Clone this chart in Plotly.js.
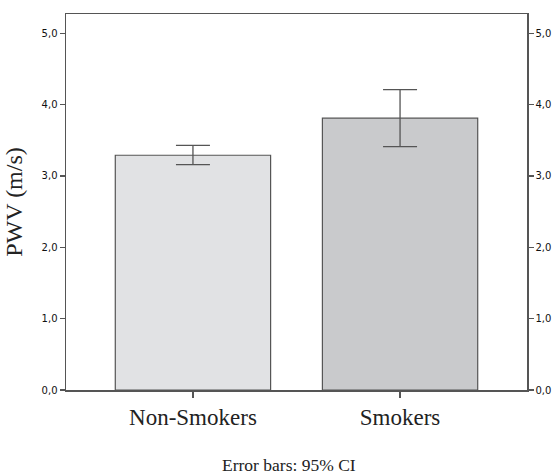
<!DOCTYPE html>
<html>
<head>
<meta charset="utf-8">
<script src="https://cdn.plot.ly/plotly-3.0.1.min.js"></script>
<style>html,body{margin:0;padding:0;background:#fff;}#chart{width:557px;height:476px;}</style>
</head>
<body>
<div id="chart"></div>
<script>
const categories = ["Non-Smokers", "Smokers"];
const meanPWV = [3.29, 3.81];
const ciUpper = [0.14, 0.40];
const ciLower = [0.13, 0.40];
const barColors = ["#e1e2e4", "#c9cacc"];
const yTickVals = [0, 1, 2, 3, 4, 5];
const yTickText = ["0,0", "1,0", "2,0", "3,0", "4,0", "5,0"];

const axisColor = "#555555";
const tickFont = {family: "DejaVu Sans", size: 10, color: "#111"};

const traces = [
  {
    type: "bar",
    x: categories,
    y: meanPWV,
    width: 0.75,
    marker: {color: barColors, line: {color: axisColor, width: 1.2}},
    error_y: {type: "data", symmetric: false, array: ciUpper, arrayminus: ciLower,
              color: axisColor, thickness: 1.3, width: 17},
    hoverinfo: "skip",
    showlegend: false
  },
  {
    type: "scatter",
    mode: "markers",
    x: categories,
    y: meanPWV,
    yaxis: "y2",
    marker: {opacity: 0},
    hoverinfo: "skip",
    showlegend: false
  }
];

const layout = {
  width: 557,
  height: 476,
  margin: {l: 66, r: 30, t: 14, b: 86},
  paper_bgcolor: "#ffffff",
  plot_bgcolor: "#ffffff",
  showlegend: false,
  xaxis: {
    type: "category",
    range: [-0.613, 1.613],
    showline: true, linecolor: axisColor, linewidth: 1.5, mirror: true,
    ticks: "outside", ticklen: 6, tickcolor: axisColor, tickwidth: 1.3,
    showgrid: false, zeroline: false,
    tickfont: {family: "Liberation Serif", size: 23, color: "#222"}
  },
  yaxis: {
    range: [0, 5.27],
    tickvals: yTickVals, ticktext: yTickText,
    showline: true, linecolor: axisColor, linewidth: 1.5,
    ticks: "outside", ticklen: 5, tickcolor: axisColor, tickwidth: 1.3,
    showgrid: false, zeroline: false,
    tickfont: tickFont,
    title: {text: "PWV (m/s)", font: {family: "Liberation Serif", size: 24, color: "#222"}, standoff: 12}
  },
  yaxis2: {
    range: [0, 5.27],
    overlaying: "y", side: "right", matches: "y",
    tickvals: yTickVals, ticktext: yTickText,
    showline: true, linecolor: axisColor, linewidth: 1.5,
    ticks: "outside", ticklen: 5, tickcolor: axisColor, tickwidth: 1.3,
    showgrid: false, zeroline: false,
    tickfont: tickFont
  },
  annotations: [
    {text: "Error bars: 95% CI", xref: "paper", yref: "paper", x: 0.484, y: -0.2,
     xanchor: "center", yanchor: "middle", showarrow: false,
     font: {family: "Liberation Serif", size: 17.5, color: "#222"}}
  ]
};

Plotly.newPlot("chart", traces, layout, {displayModeBar: false, staticPlot: true});
</script>
</body>
</html>
